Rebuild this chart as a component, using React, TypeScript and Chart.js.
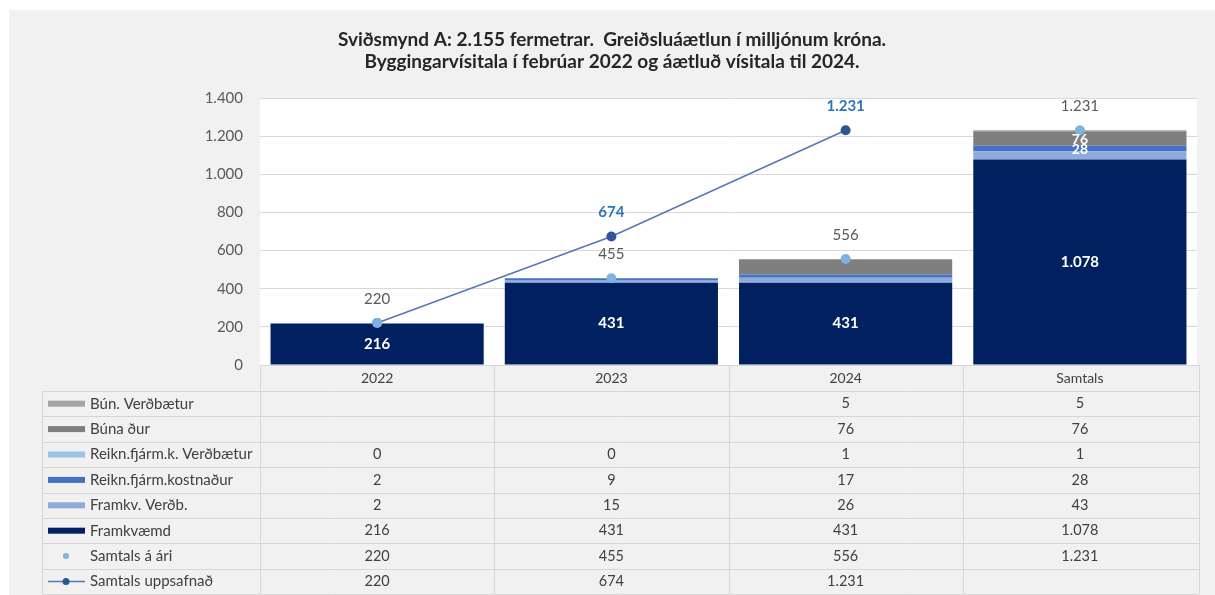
import React, { useEffect, useRef } from 'react';
import { Chart, registerables } from 'chart.js';

Chart.register(...registerables);

const categories = ['2022', '2023', '2024', 'Samtals'];
const framkvaemd = [216, 431, 431, 1078];
const framkvVerdb = [2, 15, 26, 43];
const reiknKostnadur = [2, 9, 17, 28];
const reiknVerdbaetur = [0, 0, 1, 1];
const bunadur = [null, null, 76, 76];
const bunVerdbaetur = [null, null, 5, 5];
const samtalsAri = [220, 455, 556, 1231];
const samtalsUppsafnad = [220, 674, 1231, null];
const yTickValues = [0, 200, 400, 600, 800, 1000, 1200, 1400];
const titleLines = [
  'Sviðsmynd A: 2.155 fermetrar.  Greiðsluáætlun í milljónum króna.',
  'Byggingarvísitala í febrúar 2022 og áætluð vísitala til 2024.',
];

const FONT = 'Lato, "Open Sans", sans-serif';
const TXT = '#404040';

const fmt = (v: number | null | undefined) =>
  v == null ? '' : String(v).replace(/\B(?=(\d{3})+(?!\d))/g, '.');

const C = {
  framkvaemd: '#002060',
  framkvVerdb: '#8faadc',
  reiknKostnadur: '#4472c4',
  reiknVerdbaetur: '#9dc3e6',
  bunadur: '#7f7f7f',
  bunVerdbaetur: '#a5a5a5',
  ari: '#7fb2e2',
  uppsafnad: '#2f5597',
  uppLine: '#5676b8',
};

export default function App() {
  const ref = useRef<HTMLCanvasElement | null>(null);

  useEffect(() => {
    document.body.style.margin = '0';
    const canvas = ref.current;
    if (!canvas) return;

    const bg = {
      id: 'bg',
      beforeDraw(chart: any) {
        const { ctx, chartArea } = chart;
        ctx.save();
        ctx.fillStyle = '#ffffff';
        ctx.fillRect(0, 0, chart.width, chart.height);
        ctx.fillStyle = '#f1f1f1';
        ctx.fillRect(9, 10, chart.width - 9, chart.height - 10);
        ctx.fillStyle = '#ffffff';
        ctx.fillRect(chartArea.left, chartArea.top, chartArea.right - chartArea.left, chartArea.bottom - chartArea.top);
        ctx.restore();
      },
    };

    const labels = {
      id: 'labels',
      afterDatasetsDraw(chart: any) {
        const { ctx } = chart;
        ctx.save();
        ctx.textAlign = 'center';
        ctx.textBaseline = 'middle';
        chart.data.datasets.forEach((ds: any, di: number) => {
          const meta = chart.getDatasetMeta(di);
          const lab = ds.labelCfg;
          if (!lab) return;
          meta.data.forEach((el: any, i: number) => {
            const v = ds.data[i];
            if (v == null) return;
            if (lab.only && !lab.only.includes(i)) return;
            if (lab.skip && lab.skip.includes(i)) return;
            ctx.font = lab.font;
            ctx.fillStyle = lab.color;
            if (lab.kind === 'bar') {
              ctx.fillText(fmt(v), el.x, (el.y + el.base) / 2 + (lab.dy || 0));
            } else {
              ctx.fillText(fmt(v), el.x, el.y - 24);
            }
          });
        });
        ctx.restore();
      },
    };

    const table = {
      id: 'table',
      afterDraw(chart: any) {
        const { ctx, chartArea } = chart;
        const xs = chart.scales.x;
        const n = categories.length;
        const centers = categories.map((_, i) => xs.getPixelForValue(i));
        const bounds: number[] = [chartArea.left];
        for (let i = 0; i < n - 1; i++) bounds.push((centers[i] + centers[i + 1]) / 2);
        bounds.push(chartArea.right + 2);
        const top = chartArea.bottom;
        const rowTop = 391;
        const rowH = 25.4;
        const rows = [
          { label: 'Bún. Verðbætur', data: bunVerdbaetur, color: C.bunVerdbaetur, kind: 'bar' },
          { label: 'Búna ður', data: bunadur, color: C.bunadur, kind: 'bar' },
          { label: 'Reikn.fjárm.k. Verðbætur', data: reiknVerdbaetur, color: C.reiknVerdbaetur, kind: 'bar' },
          { label: 'Reikn.fjárm.kostnaður', data: reiknKostnadur, color: C.reiknKostnadur, kind: 'bar' },
          { label: 'Framkv. Verðb.', data: framkvVerdb, color: C.framkvVerdb, kind: 'bar' },
          { label: 'Framkvæmd', data: framkvaemd, color: C.framkvaemd, kind: 'bar' },
          { label: 'Samtals á ári', data: samtalsAri, color: C.ari, kind: 'dot' },
          { label: 'Samtals uppsafnað', data: samtalsUppsafnad, color: C.uppsafnad, kind: 'line' },
        ];
        const bottom = rowTop + rows.length * rowH;
        const left = 42;
        ctx.save();
        ctx.strokeStyle = '#d6d6d6';
        ctx.lineWidth = 1;
        ctx.beginPath();
        ctx.moveTo(chartArea.left, Math.round(top) + 0.5);
        ctx.lineTo(bounds[n], Math.round(top) + 0.5);
        for (let r = 0; r <= rows.length; r++) {
          const y = Math.round(rowTop + r * rowH) + 0.5;
          ctx.moveTo(left, y);
          ctx.lineTo(bounds[n], y);
        }
        ctx.moveTo(left + 0.5, rowTop);
        ctx.lineTo(left + 0.5, bottom);
        bounds.forEach((b) => {
          const x = Math.round(b) + 0.5;
          ctx.moveTo(x, top);
          ctx.lineTo(x, bottom);
        });
        ctx.stroke();

        ctx.textBaseline = 'middle';
        ctx.fillStyle = TXT;
        ctx.textAlign = 'center';
        ctx.font = `14px ${FONT}`;
        categories.forEach((c, i) => ctx.fillText(c, centers[i], top + 13));

        rows.forEach((row, r) => {
          const cy = rowTop + r * rowH + rowH / 2;
          if (row.kind === 'bar') {
            ctx.fillStyle = row.color;
            ctx.fillRect(48, cy - 3, 37, 6);
          } else if (row.kind === 'dot') {
            ctx.fillStyle = row.color;
            ctx.beginPath();
            ctx.arc(66, cy, 3, 0, Math.PI * 2);
            ctx.fill();
          } else {
            ctx.strokeStyle = C.uppLine;
            ctx.lineWidth = 1.5;
            ctx.beginPath();
            ctx.moveTo(48, cy);
            ctx.lineTo(85, cy);
            ctx.stroke();
            ctx.fillStyle = row.color;
            ctx.beginPath();
            ctx.arc(66, cy, 3.5, 0, Math.PI * 2);
            ctx.fill();
          }
          ctx.fillStyle = TXT;
          ctx.textAlign = 'left';
          ctx.font = `15px ${FONT}`;
          ctx.fillText(row.label, 90, cy);
          ctx.textAlign = 'center';
          ctx.font = `14.5px ${FONT}`;
          row.data.forEach((v: any, i: number) => {
            ctx.fillText(fmt(v), centers[i], cy);
          });
        });

        ctx.fillStyle = '#262626';
        ctx.textAlign = 'center';
        ctx.font = `bold 19px ${FONT}`;
        ctx.fillText(titleLines[0], 612, 40);
        ctx.fillText(titleLines[1], 612, 62);
        ctx.restore();
      },
    };

    const barDs = (label: string, data: any[], color: string, labelCfg?: any) => ({
      type: 'bar' as const,
      label,
      data,
      backgroundColor: color,
      borderWidth: 0,
      stack: 'bars',
      order: 2,
      labelCfg,
    });

    const chart = new Chart(canvas, {
      type: 'bar',
      data: {
        labels: categories,
        datasets: [
          barDs('Framkvæmd', framkvaemd, C.framkvaemd, {
            kind: 'bar', font: `bold 15px ${FONT}`, color: '#ffffff',
          }),
          barDs('Framkv. Verðb.', framkvVerdb, C.framkvVerdb),
          barDs('Reikn.fjárm.kostnaður', reiknKostnadur, C.reiknKostnadur, {
            kind: 'bar', font: `bold 14px ${FONT}`, color: '#ffffff', only: [3], dy: 1,
          }),
          barDs('Reikn.fjárm.k. Verðbætur', reiknVerdbaetur, C.reiknVerdbaetur),
          barDs('Búnaður', bunadur, C.bunadur, {
            kind: 'bar', font: `bold 14px ${FONT}`, color: '#ffffff', only: [3], dy: 1,
          }),
          barDs('Bún. Verðbætur', bunVerdbaetur, C.bunVerdbaetur),
          {
            type: 'line' as const,
            label: 'Samtals uppsafnað',
            data: samtalsUppsafnad,
            stack: 'cum',
            borderColor: C.uppLine,
            borderWidth: 1.5,
            pointBackgroundColor: C.uppsafnad,
            pointBorderColor: C.uppsafnad,
            pointRadius: 5,
            pointBorderWidth: 0,
            tension: 0,
            order: 1,
            labelCfg: { kind: 'point', font: `bold 15px ${FONT}`, color: '#2e75b6', skip: [0] },
          } as any,
          {
            type: 'line' as const,
            label: 'Samtals á ári',
            data: samtalsAri,
            stack: 'ari',
            showLine: false,
            borderWidth: 0,
            borderColor: C.ari,
            pointBackgroundColor: C.ari,
            pointBorderColor: C.ari,
            pointRadius: 5,
            pointBorderWidth: 0,
            order: 0,
            labelCfg: { kind: 'point', font: `15px ${FONT}`, color: '#595959' },
          } as any,
        ],
      },
      options: {
        responsive: false,
        animation: false,
        layout: { padding: { top: 98, right: 18, bottom: 230, left: 0 } },
        datasets: { bar: { categoryPercentage: 1, barPercentage: 0.91 } },
        plugins: {
          legend: { display: false },
          title: { display: false },
          tooltip: { enabled: false },
        },
        scales: {
          x: {
            display: false,
            stacked: true,
          },
          y: {
            stacked: true,
            min: 0,
            max: 1400,
            afterFit: (s: any) => { s.width = 260; },
            afterBuildTicks: (s: any) => { s.ticks = yTickValues.map((v) => ({ value: v })); },
            ticks: {
              padding: 17,
              color: '#595959',
              font: { family: FONT, size: 15 },
              callback: (v: any) => fmt(Number(v)),
            },
            grid: { color: '#d9d9d9', drawTicks: false, lineWidth: 1 },
            border: { display: false },
          },
        },
      },
      plugins: [bg, labels, table],
    });

    return () => chart.destroy();
  }, []);

  return <canvas ref={ref} width={1215} height={595} style={{ display: 'block' }} />;
}
